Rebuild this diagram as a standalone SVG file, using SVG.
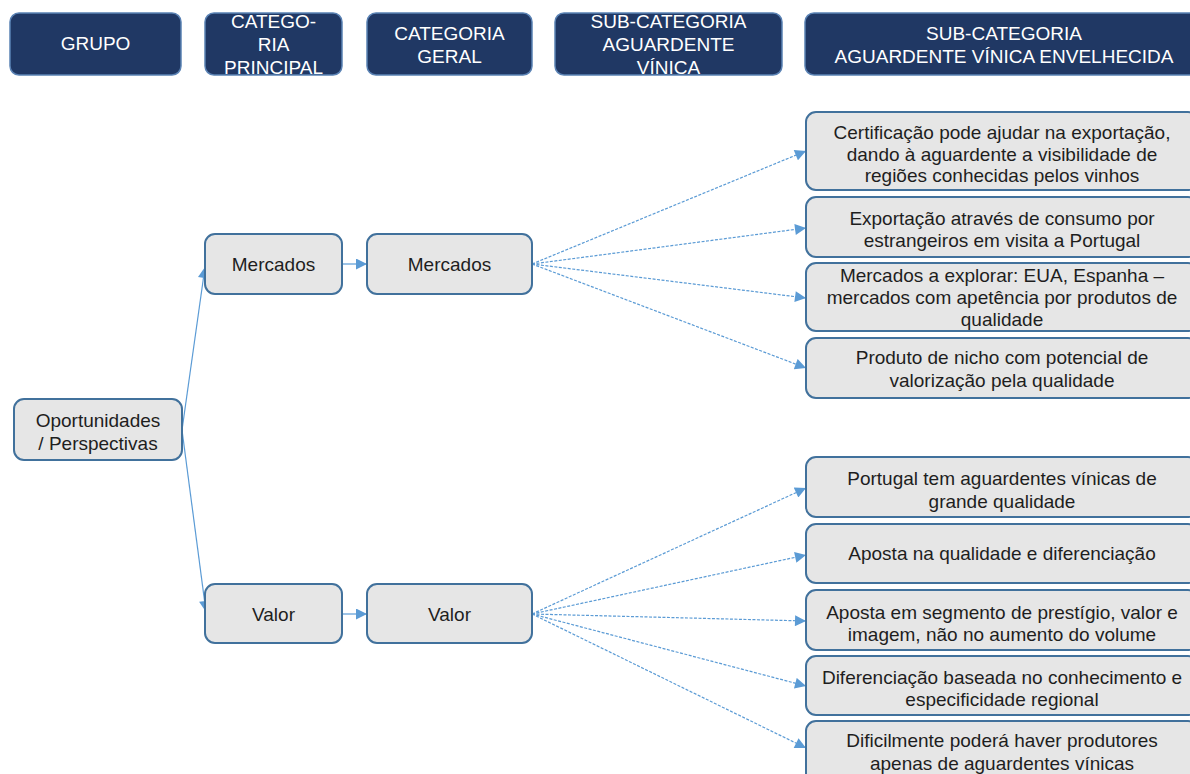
<svg xmlns="http://www.w3.org/2000/svg" width="1190" height="774" viewBox="0 0 1190 774">
<style>
.hdr{fill:#203864;stroke:#5a82b4;stroke-width:1.5}
.ht{font-family:"Liberation Sans",Arial,sans-serif;font-size:19px;fill:#ffffff;text-anchor:middle}
.box{fill:#e6e6e6;stroke:#41719c;stroke-width:2}
.t{font-family:"Liberation Sans",Arial,sans-serif;font-size:19px;fill:#1e1e1e;text-anchor:middle}
.solid{fill:none;stroke:#5b9bd5;stroke-width:1.2}
.dash{fill:none;stroke:#5b9bd5;stroke-width:1.2;stroke-dasharray:3 1.5}
</style>
<defs>
<marker id="ah" viewBox="0 0 10 10" refX="10" refY="5" markerWidth="13" markerHeight="11" markerUnits="userSpaceOnUse" orient="auto">
<path d="M0,0 L10,5 L0,10 Z" fill="#5b9bd5"/>
</marker>
</defs>
<rect width="1190" height="774" fill="#ffffff"/>

<g id="headers">
<g id="h-grupo"><rect class="hdr" x="10" y="13" width="171" height="62" rx="9"/><text class="ht" x="95.5" y="50">GRUPO</text></g>
<g id="h-catprinc"><rect class="hdr" x="205" y="13" width="137" height="62" rx="9"/><text class="ht" x="273.5" y="28">CATEGO-</text><text class="ht" x="273.5" y="51">RIA</text><text class="ht" x="273.5" y="74">PRINCIPAL</text></g>
<g id="h-catgeral"><rect class="hdr" x="367" y="13" width="165" height="62" rx="9"/><text class="ht" x="449.5" y="40">CATEGORIA</text><text class="ht" x="449.5" y="63">GERAL</text></g>
<g id="h-subcat"><rect class="hdr" x="555" y="13" width="227" height="62" rx="9"/><text class="ht" x="668.5" y="28">SUB-CATEGORIA</text><text class="ht" x="668.5" y="51">AGUARDENTE</text><text class="ht" x="668.5" y="74">VÍNICA</text></g>
<g id="h-subcatenv"><rect class="hdr" x="805" y="13" width="398" height="62" rx="9"/><text class="ht" x="1004" y="40">SUB-CATEGORIA</text><text class="ht" x="1004" y="63">AGUARDENTE VÍNICA ENVELHECIDA</text></g>
</g>

<g id="connectors">
<path class="solid" d="M182,430 L205,267" marker-end="url(#ah)"/>
<path class="solid" d="M182,430 L206,612" marker-end="url(#ah)"/>
<path class="solid" d="M343,264 L367,264" marker-end="url(#ah)"/>
<path class="solid" d="M343,614 L367,614" marker-end="url(#ah)"/>
<path class="dash" d="M532,264 L806,151" marker-end="url(#ah)"/>
<path class="dash" d="M532,264 L806,228" marker-end="url(#ah)"/>
<path class="dash" d="M532,264 L806,298" marker-end="url(#ah)"/>
<path class="dash" d="M532,264 L806,368" marker-end="url(#ah)"/>
<path class="dash" d="M532,614 L806,488" marker-end="url(#ah)"/>
<path class="dash" d="M532,614 L806,555" marker-end="url(#ah)"/>
<path class="dash" d="M532,614 L806,621" marker-end="url(#ah)"/>
<path class="dash" d="M532,614 L806,686" marker-end="url(#ah)"/>
<path class="dash" d="M532,614 L806,748" marker-end="url(#ah)"/>
</g>

<g id="n-oport"><rect class="box" x="14" y="399" width="168" height="61" rx="10"/><text class="t" x="98" y="427">Oportunidades</text><text class="t" x="98" y="450">/ Perspectivas</text></g>
<g id="n-merc1"><rect class="box" x="205" y="234" width="137" height="60" rx="10"/><text class="t" x="273.5" y="271">Mercados</text></g>
<g id="n-merc2"><rect class="box" x="367" y="234" width="165" height="60" rx="10"/><text class="t" x="449.5" y="271">Mercados</text></g>
<g id="n-valor1"><rect class="box" x="205" y="584" width="137" height="59" rx="10"/><text class="t" x="273.5" y="621">Valor</text></g>
<g id="n-valor2"><rect class="box" x="367" y="584" width="165" height="59" rx="10"/><text class="t" x="449.5" y="621">Valor</text></g>

<g id="n-m1"><rect class="box" x="806" y="112" width="392" height="78" rx="10"/><text class="t" x="1002" y="139">Certificação pode ajudar na exportação,</text><text class="t" x="1002" y="160.5">dando à aguardente a visibilidade de</text><text class="t" x="1002" y="182">regiões conhecidas pelos vinhos</text></g>
<g id="n-m2"><rect class="box" x="806" y="197" width="392" height="60" rx="10"/><text class="t" x="1002" y="225">Exportação através de consumo por</text><text class="t" x="1002" y="247">estrangeiros em visita a Portugal</text></g>
<g id="n-m3"><rect class="box" x="806" y="263" width="392" height="68" rx="10"/><text class="t" x="1002" y="282">Mercados a explorar: EUA, Espanha –</text><text class="t" x="1002" y="304">mercados com apetência por produtos de</text><text class="t" x="1002" y="326">qualidade</text></g>
<g id="n-m4"><rect class="box" x="806" y="338" width="392" height="60" rx="10"/><text class="t" x="1002" y="364">Produto de nicho com potencial de</text><text class="t" x="1002" y="387">valorização pela qualidade</text></g>

<g id="n-v1"><rect class="box" x="806" y="457" width="392" height="60" rx="10"/><text class="t" x="1002" y="485">Portugal tem aguardentes vínicas de</text><text class="t" x="1002" y="508">grande qualidade</text></g>
<g id="n-v2"><rect class="box" x="806" y="524" width="392" height="59" rx="10"/><text class="t" x="1002" y="560">Aposta na qualidade e diferenciação</text></g>
<g id="n-v3"><rect class="box" x="806" y="590" width="392" height="60" rx="10"/><text class="t" x="1002" y="619">Aposta em segmento de prestígio, valor e</text><text class="t" x="1002" y="641">imagem, não no aumento do volume</text></g>
<g id="n-v4"><rect class="box" x="806" y="656" width="392" height="59" rx="10"/><text class="t" x="1002" y="684">Diferenciação baseada no conhecimento e</text><text class="t" x="1002" y="706">especificidade regional</text></g>
<g id="n-v5"><rect class="box" x="806" y="721" width="392" height="62" rx="10"/><text class="t" x="1002" y="747">Dificilmente poderá haver produtores</text><text class="t" x="1002" y="770">apenas de aguardentes vínicas</text></g>
</svg>
